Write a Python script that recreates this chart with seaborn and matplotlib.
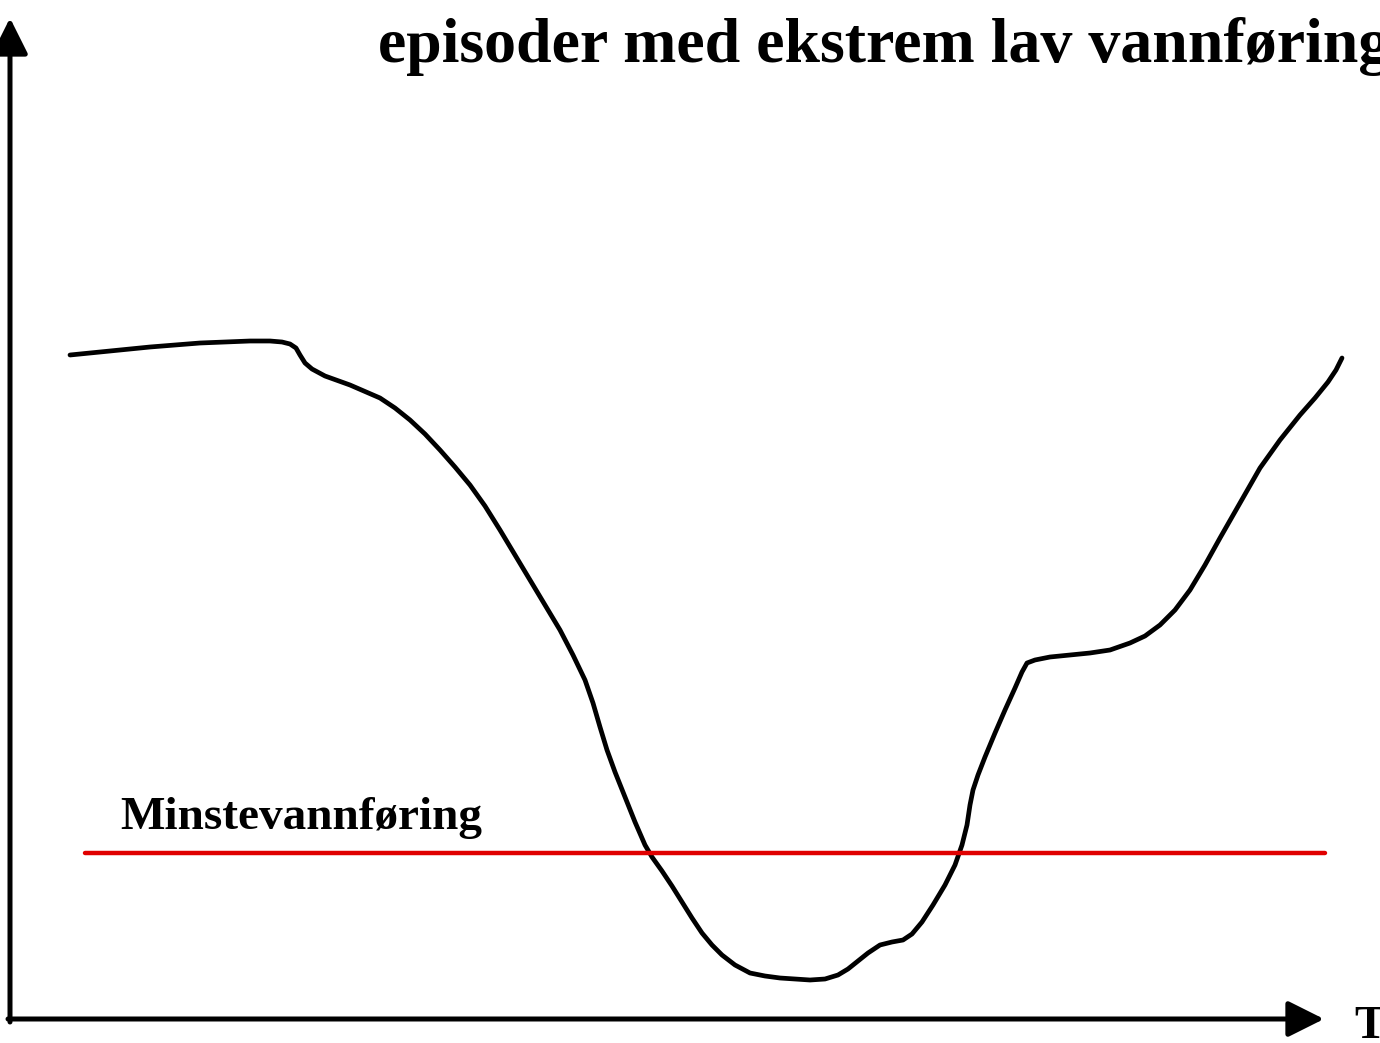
import matplotlib
matplotlib.use("Agg")
import matplotlib.pyplot as plt
import seaborn as sns
import pandas as pd

# curve (pixel-like units, y grows downward)
flow_x = [70, 110, 150, 200, 250, 270, 282, 290, 296, 300, 305, 312, 325, 350,
          380, 395, 410, 425, 440, 455, 470, 485, 500, 515, 530, 545, 560, 573,
          585, 593, 600, 607, 615, 625, 635, 645, 652, 662, 672, 682, 692, 702,
          712, 722, 735, 750, 765, 780, 795, 810, 825, 838, 848, 858, 868, 880,
          892, 903, 912, 922, 933, 945, 955, 962, 967, 970, 973, 978, 985, 995,
          1005, 1015, 1022, 1027, 1035, 1050, 1070, 1090, 1110, 1130, 1145,
          1160, 1175, 1190, 1205, 1220, 1240, 1260, 1280, 1300, 1315, 1328,
          1336, 1342]
flow_y = [355, 351, 347, 343, 341, 341, 342, 344, 348, 355, 363, 369, 376, 385,
          398, 408, 420, 434, 450, 467, 485, 506, 530, 555, 580, 605, 630, 655,
          680, 703, 727, 750, 772, 797, 822, 845, 857, 871, 886, 902, 918, 933,
          945, 955, 965, 973, 976, 978, 979, 980, 979, 975, 969, 961, 953, 945,
          942, 940, 934, 922, 905, 885, 865, 845, 825, 805, 790, 775, 757, 733,
          710, 688, 672, 663, 660, 657, 655, 653, 650, 643, 636, 625, 610, 590,
          565, 538, 503, 468, 440, 415, 398, 382, 370, 358]

min_x = [85, 1325]
min_y = [853, 853]

title_line = "episoder med ekstrem lav vannføring"
min_label = "Minstevannføring"
x_label = "T"

sns.set_theme(style="white")
plt.rcParams["font.family"] = ["Liberation Serif", "DejaVu Serif"]
plt.rcParams["text.color"] = "black"

fig = plt.figure(figsize=(13.8, 10.43), dpi=100)
ax = fig.add_axes([0, 0, 1, 1])
ax.set_xlim(0, 1380)
ax.set_ylim(1043, 0)
ax.axis("off")

curve = pd.DataFrame({"x": flow_x, "y": flow_y})
sns.lineplot(data=curve, x="x", y="y", sort=False, color="black", lw=3.4,
             solid_joinstyle="round", solid_capstyle="round", ax=ax)
sns.lineplot(x=min_x, y=min_y, color="#e00000", lw=3.2, ax=ax)

# axes with arrows
ax.annotate("", xy=(10, 18), xytext=(10, 1022),
            arrowprops=dict(arrowstyle="-|>", lw=3.6, color="black",
                            mutation_scale=55, shrinkA=0, shrinkB=0))
ax.annotate("", xy=(1324, 1019), xytext=(8, 1019),
            arrowprops=dict(arrowstyle="-|>", lw=3.6, color="black",
                            mutation_scale=55, shrinkA=0, shrinkB=0))

ax.text(378, 46, title_line, fontsize=46, fontweight="bold", va="center", ha="left")
ax.text(120, 818, min_label, fontsize=34, fontweight="bold", va="center", ha="left")
ax.text(1354, 1027, x_label, fontsize=34, fontweight="bold", va="center", ha="left")

fig.savefig("out.png", dpi=100)
